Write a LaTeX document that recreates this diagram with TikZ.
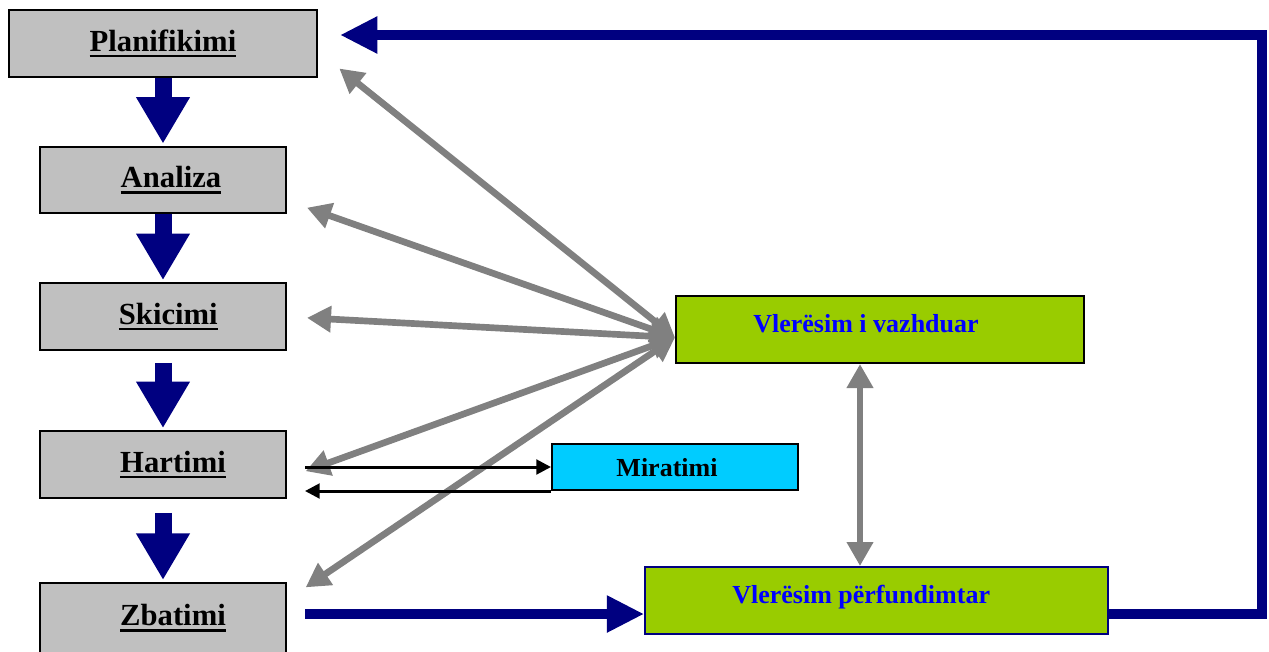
\documentclass[tikz,border=0pt]{standalone}
\usepackage{fontspec}
\setmainfont{Liberation Serif}
\usetikzlibrary{arrows.meta}

\definecolor{navyblue}{HTML}{000080}
\definecolor{boxgray}{HTML}{C0C0C0}
\definecolor{limegreen}{HTML}{99CC00}
\definecolor{skyblue}{HTML}{00CCFF}
\definecolor{linkgray}{HTML}{808080}

\newcommand{\ulword}[1]{\setbox0\hbox{#1}\leavevmode\rlap{\rule[-4.5pt]{\wd0}{1.8pt}}\box0}

\begin{document}
\begin{tikzpicture}[x=0.75pt,y=-0.75pt,
    phase/.style={draw=black, line width=1.5pt, fill=boxgray, minimum width=184.5pt, minimum height=50pt, font=\bfseries\fontsize{23}{27}\selectfont},
    evalbox/.style={draw=black, line width=1.5pt, fill=limegreen, minimum height=50.25pt, text height=12pt, text depth=7pt, text=blue, font=\bfseries\fontsize{19.5}{24}\selectfont},
    approvebox/.style={draw=black, line width=1.5pt, fill=skyblue, minimum width=184.5pt, minimum height=34.5pt, text height=17pt, text depth=2.5pt, font=\bfseries\fontsize{19.5}{24}\selectfont},
    downarrow/.style={navyblue, line width=12.75pt, -{Triangle[width=38pt,length=35pt]}},
    flowarrow/.style={navyblue, line width=8pt, -{Triangle[width=26pt,length=28pt]}},
    linkarrow/.style={linkgray, line width=5pt, {Triangle[width=19pt,length=18pt]}-{Triangle[width=19pt,length=18pt]}},
    backarrow/.style={black, line width=2.25pt, -{Triangle[width=11pt,length=11pt]}}]
\useasboundingbox (0,0) rectangle (1269,651);

% phases on the left
\node[phase, minimum width=231pt] (plan) at (163,43.5) {\ulword{Planifikimi}};
\node[phase] (anal) at (163,180) {\kern12pt\ulword{Analiza}};
\node[phase] (skic) at (163,316.5) {\kern8pt\ulword{Skicimi}};
\node[phase] (hart) at (163,464.5) {\kern15pt\ulword{Hartimi}};
\node[phase, minimum height=52.5pt] (zbat) at (163,618) {\kern15pt\ulword{Zbatimi}};

% evaluation and approval
\node[evalbox, minimum width=306pt] (vaz) at (880,329.5) {Vlerësim i vazhduar\kern21pt};
\node[evalbox, draw=navyblue, minimum width=347pt] (fin) at (876.5,600.5) {Vlerësim përfundimtar\kern23pt};
\node[approvebox] (mir) at (675,467) {Miratimi\kern12pt};

\foreach \a/\b/\s in {plan/anal/0pt, anal/skic/0pt, skic/hart/9pt, hart/zbat/10.5pt} {
    \draw[downarrow, shorten <=\s, shorten >=1.5pt] (\a.south) -- (\b.north);
}

% two-way links to the ongoing evaluation
\coordinate (hub) at ([yshift=-6pt]vaz.west);
\draw[linkarrow] (hub) -- ([xshift=16pt,yshift=7pt]plan.south east);
\draw[linkarrow] (hub) -- ([xshift=15pt,yshift=5pt]anal.south east);
\draw[linkarrow] (hub) -- ([xshift=15pt,yshift=-1pt]skic.east);
\draw[linkarrow] (hub) -- ([xshift=14pt,yshift=-5pt]hart.east);
\draw[linkarrow] (hub) -- ([xshift=14pt,yshift=-4pt]zbat.north east);
\draw[linkarrow] ([xshift=-15pt]vaz.south) -- ([xshift=-15pt]vaz.south |- fin.north);

% approval loop
\draw[backarrow, shorten <=13.5pt] (hart.east |- mir.west) -- (mir.west);
\draw[backarrow, shorten >=13.5pt] (mir.south west) -- (hart.east |- mir.south west);

% final flow and feedback
\coordinate (lowline) at (0,614);
\coordinate (loopcorner) at (1262,35);
\draw[flowarrow, shorten <=13.5pt] (zbat.east |- lowline) -- (fin.west |- lowline);
\draw[flowarrow, line join=miter, shorten >=16.5pt] (fin.east |- lowline) -| (loopcorner) -- (plan.east |- loopcorner);
\end{tikzpicture}
\end{document}
